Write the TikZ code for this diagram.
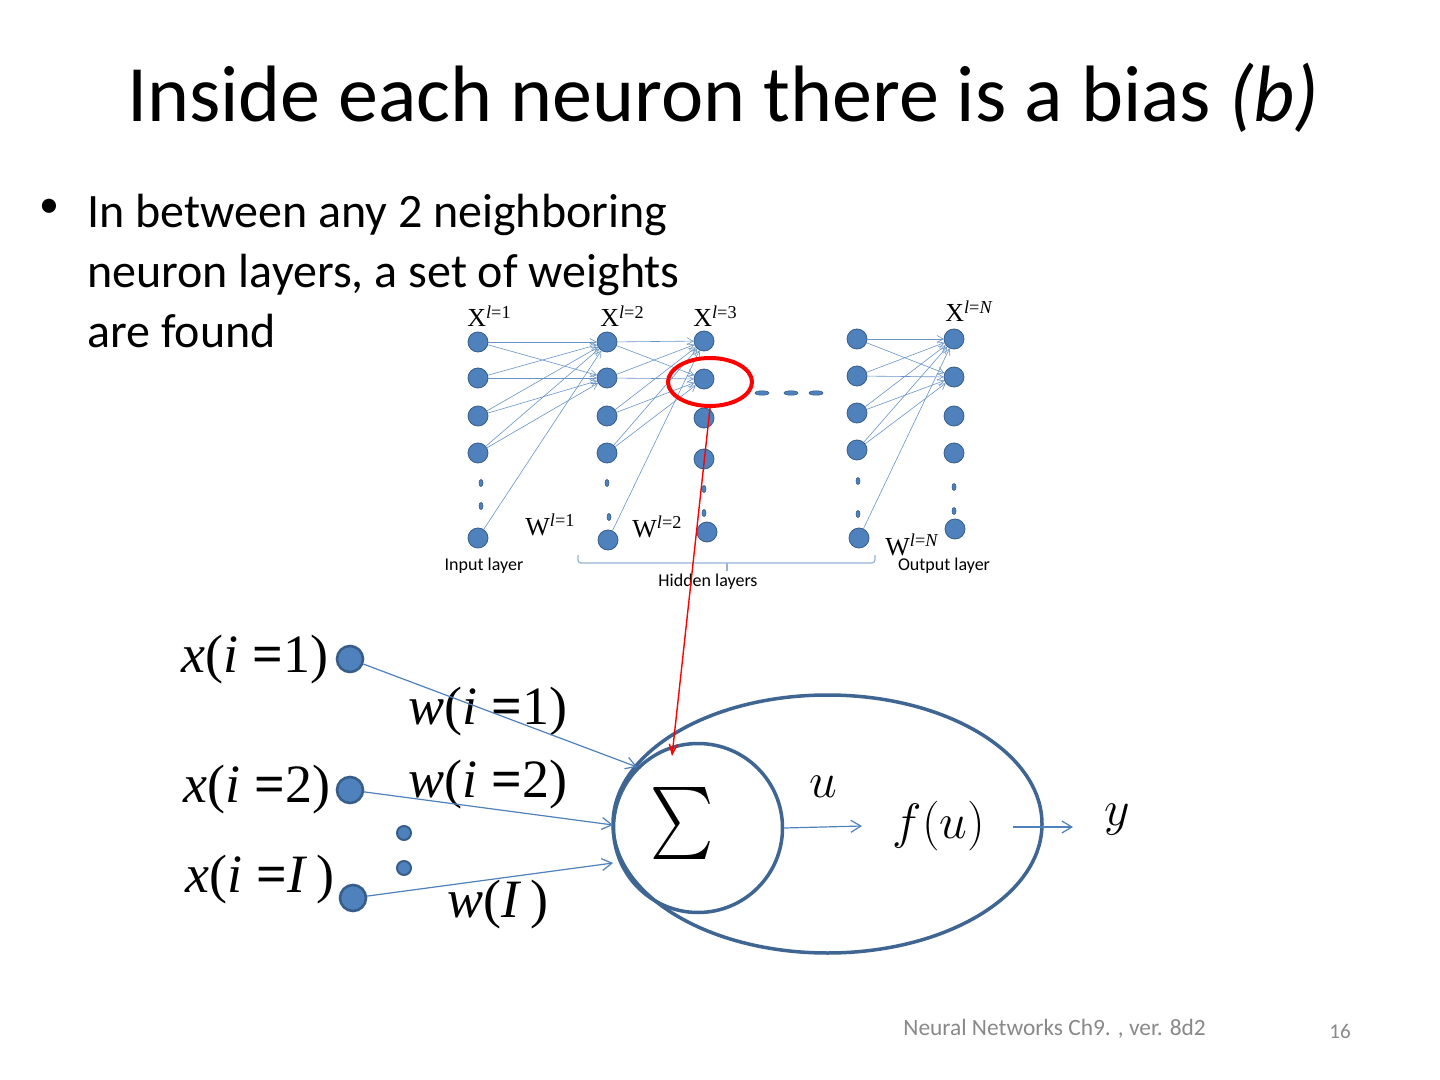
\documentclass[tikz,border=0pt]{standalone}
\usepackage{fontspec}
\usepackage{graphicx}
\setmainfont{Carlito}
\newfontfamily\tms{Liberation Serif}
\usetikzlibrary{arrows.meta,shapes.geometric}
\definecolor{nfill}{HTML}{4F81BD}
\definecolor{nline}{HTML}{385D8A}
\definecolor{wline}{HTML}{4F81BD}
\definecolor{bline}{HTML}{3F6592}
\definecolor{brc}{HTML}{95B3D7}
\definecolor{foot}{HTML}{898989}
\newcommand{\beq}{{\bfseries =}}
\begin{document}
\begin{tikzpicture}[x=0.5pt,y=-0.5pt,
  netnode/.style={circle,fill=nfill,draw=nline,line width=0.4pt,minimum size=10pt,inner sep=0pt},
  netdot/.style={ellipse,fill=nfill,draw=nline,line width=0.3pt,minimum width=2pt,minimum height=3.5pt,inner sep=0pt},
  netdash/.style={ellipse,fill=nfill,draw=nline,line width=0.3pt,minimum width=7pt,minimum height=2.2pt,inner sep=0pt},
  netlink/.style={draw=wline!85,line width=0.3pt,-{Straight Barb[length=3pt,width=3.5pt]}},
  netlab/.style={inner sep=0pt,anchor=base west,font=\tms\fontsize{13}{14}\selectfont},
  laylab/.style={inner sep=0pt,font=\fontsize{9}{10}\selectfont},
  innode/.style={circle,fill=nfill,draw=nline,line width=1.3pt,minimum size=13pt,inner sep=0pt},
  indot/.style={circle,fill=nfill,draw=nline,line width=1pt,minimum size=7pt,inner sep=0pt},
  wlink/.style={draw=wline,line width=0.6pt,-{Straight Barb[length=5pt,width=6pt]}},
  mlab/.style={inner sep=0pt,font=\tms\fontsize{27}{30}\selectfont},
  cmlab/.style={inner sep=0pt,font=\fontsize{28}{32}\selectfont},
  btext/.style={inner sep=0pt,anchor=base west,font=\fontsize{24}{30}\selectfont}
]
\useasboundingbox (0,0) rectangle (1440,1080);
\fill[white] (0,0) rectangle (1440,1080);

% title
\node[inner sep=0pt,anchor=base,font=\fontsize{40}{48}\selectfont] (title) at (723,122) {Inside each neuron there is a bias \textit{(b)}};

% bullet
\node[inner sep=0pt,font=\fontsize{20}{24}\selectfont] (bul) at (49,208) {•};
\node[btext] (b1) at (87,228) {In between any 2 neighboring};
\node[btext] (b2) at (87,288) {neuron layers, a set of weights};
\node[btext] (b3) at (87,348) {are found};

% network columns
\foreach \cc/\xx/\ya/\yb/\yc/\yd/\dxa/\dya/\dxb/\dyb/\xe/\ye in {
  1/478/342/378/416/453/481/483/481/506/478/538,
  2/607/342/378/416/453/607/483/609/517/608/540,
  3/704/341/379/418/459/704/489/704/513/707/532,
  4/857/339/376/413/450/858/481/858/514/859/538,
  5/954/339/377/416/453/954/487/954/511/955/529}{
  \node[netnode] (c\cc n1) at (\xx,\ya) {};
  \node[netnode] (c\cc n2) at (\xx,\yb) {};
  \node[netnode] (c\cc n3) at (\xx,\yc) {};
  \node[netnode] (c\cc n4) at (\xx,\yd) {};
  \node[netdot] (c\cc d1) at (\dxa,\dya) {};
  \node[netdot] (c\cc d2) at (\dxb,\dyb) {};
  \node[netnode] (c\cc n5) at (\xe,\ye) {};
}
\foreach \pp/\qq in {1/2,2/3,4/5}{
  \foreach \ii in {1,2,3,4}{
    \draw[netlink] (c\pp n\ii) -- (c\qq n1);
    \draw[netlink] (c\pp n\ii) -- (c\qq n2);
  }
  \draw[netlink] (c\pp n5) -- (c\qq n1);
}
\node[netdash] (da) at (762,393) {};
\node[netdash] (db) at (791,393) {};
\node[netdash] (dc) at (816,393) {};

% network labels
\node[netlab] (X1) at (467,327) {X\textsuperscript{\textit{l}=1}};
\node[netlab] (X2) at (600,327) {X\textsuperscript{\textit{l}=2}};
\node[netlab] (X3) at (693,327) {X\textsuperscript{\textit{l}=3}};
\node[netlab] (XN) at (945,322) {X\textsuperscript{\textit{l}=\textit{N}}};
\node[netlab] (W1) at (525,535) {W\textsuperscript{\textit{l}=1}};
\node[netlab] (W2) at (632,537) {W\textsuperscript{\textit{l}=2}};
\node[netlab] (WN) at (885,555) {W\textsuperscript{\textit{l}=\textit{N}}};
\node[laylab] (inl) at (484,566) {Input layer};
\node[laylab] (outl) at (944,566) {Output layer};
\node[laylab] (hidl) at (708,582) {Hidden layers};
\draw[brc,line width=0.6pt,rounded corners=1.5pt] (578,555) -- (578,563) -- (875,563) -- (875,555);
\draw[brc,line width=0.6pt] (727,563) -- (727,571);

% highlighted neuron
\node[ellipse,draw=red,line width=2pt,minimum width=42pt,minimum height=24pt,inner sep=0pt] (hl) at (710,382) {};

% neuron model
\node[ellipse,draw=bline,line width=1.75pt,minimum width=214.5pt,minimum height=129pt,inner sep=0pt] (cell) at (827.5,824) {};
\node[circle,draw=bline,line width=1.75pt,minimum size=84.5pt,inner sep=0pt] (sig) at (698,828) {};
\node[inner sep=0pt] (sum) at (682,823) {\scalebox{3.0}[3.6]{$\sum$}};

\node[innode] (x1) at (350,659) {};
\node[innode] (x2) at (350,790) {};
\node[innode] (xI) at (353,898) {};
\node[indot] (dot1) at (404,833) {};
\node[indot] (dot2) at (404,868) {};

\node[mlab] (lx1) at (255,660) {\textit{x}(\textit{i} \beq 1)};
\node[mlab] (lx2) at (257,790) {\textit{x}(\textit{i} \beq 2)};
\node[mlab] (lxI) at (260,880) {\textit{x}(\textit{i} \beq \textit{I}\,)};
\node[mlab] (lw1) at (488,712) {\textit{w}(\textit{i} \beq 1)};
\node[mlab] (lw2) at (488,785) {\textit{w}(\textit{i} \beq 2)};
\node[mlab] (lwI) at (498,905) {\textit{w}(\textit{I}\,)};

\coordinate (t1) at (637,767);
\coordinate (t2) at (613,825);
\coordinate (t3) at (613,863);
\draw[wlink] (x1) -- (t1);
\draw[wlink] (x2) -- (t2);
\draw[wlink] (xI) -- (t3);

\node[cmlab] (ul) at (823,787) {$u$};
\node[cmlab] (fu) at (939,826) {$f\bigl(u\bigr)$};
\node[cmlab] (yl) at (1117,820) {$y$};
\coordinate (ut) at (862,826);
\coordinate (ys) at (1013,827);
\coordinate (yt) at (1073,827);
\draw[wlink] (sig.east) -- (ut);
\draw[wlink] (ys) -- (yt);

% red pointer
\coordinate (redtip) at (672,756);
\draw[red,line width=0.7pt,-{Straight Barb[length=5pt,width=4pt]}] (hl.south) -- (redtip);

% footer
\node[inner sep=0pt,anchor=base west,text=foot,font=\fontsize{11.7}{14}\selectfont] (foot) at (903,1035) {Neural Networks Ch9. , ver. 8d2};
\node[inner sep=0pt,anchor=base,text=foot,font=\fontsize{10.5}{12}\selectfont] (pg) at (1340,1038) {16};
\end{tikzpicture}
\end{document}
